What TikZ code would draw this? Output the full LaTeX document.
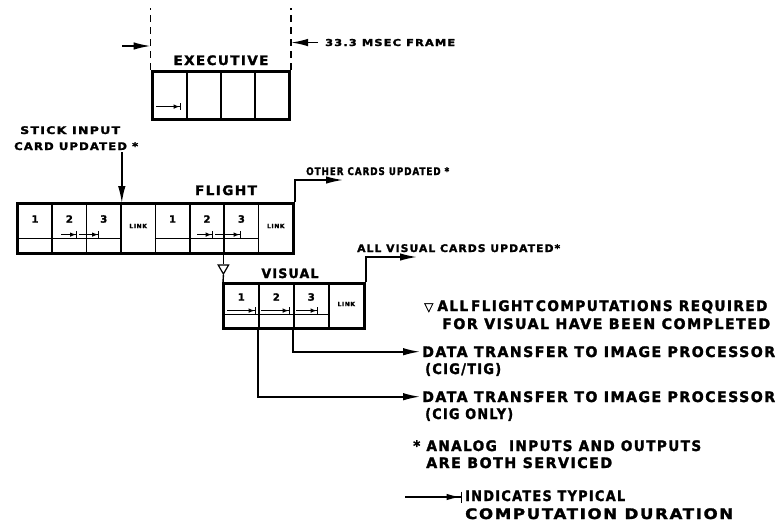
\documentclass[tikz,border=0pt]{standalone}
\usepackage{graphicx}
\usepackage{fontspec}
\setmainfont{DejaVu Sans}
\newfontfamily\lbl[LetterSpace=10,FakeBold=1.8]{DejaVu Sans Bold}
\newfontfamily\sym[FakeBold=1]{DejaVu Sans}
\newcommand{\fw}[2]{\resizebox{#1}{\height}{#2}}
\usetikzlibrary{arrows.meta,calc,fit,shapes.geometric}
\begin{document}
\begin{tikzpicture}[x=1pt,y=-1pt,
  frame/.style={draw,line width=2.8pt,inner sep=0pt},
  cell/.style={draw,line width=1.6pt,inner sep=0pt,anchor=north west,minimum height=#1},
  cell/.default=47pt,
  div/.style={line width=1.5pt},
  conn/.style={line width=1.6pt,-{Latex[length=17pt,width=7.5pt]}},
  dur/.style={line width=1.1pt,-{Latex[length=6pt,width=4.5pt]Bar[width=7pt,line width=1.3pt]}},
  big/.style={font={\lbl\fontsize{14.5}{16}\selectfont},inner sep=0pt,anchor=base west},
  mid/.style={font={\lbl\fontsize{10.5}{12}\selectfont},inner sep=0pt,anchor=base west},
  head/.style={font={\lbl\fontsize{13}{15}\selectfont},inner sep=0pt,anchor=base},
  num/.style={font={\lbl\fontsize{10}{11}\selectfont},inner sep=0pt},
  lnk/.style={font={\lbl\fontsize{6}{7}\selectfont},inner sep=0pt},
  tri/.style={draw,regular polygon,regular polygon sides=3,shape border rotate=180,
    minimum size=12pt,inner sep=0pt,line width=1.2pt}
]
\useasboundingbox (0,0) rectangle (779,531);

% ---------------- EXECUTIVE ----------------
\foreach \i in {1,...,4}{
  \node[cell,minimum width=34pt] (e\i) at ({152+(\i-1)*34},71) {};
}
\node[frame,fit=(e1)(e4)] (exec) {};
\draw[dur] ($(e1.south west)+(4,-13)$) -- ($(e1.south west)+(29,-13)$);
\node[head] (exectxt) at (221,65) {\fw{95pt}{EXECUTIVE}};
\draw[line width=1.3pt,dash pattern=on 7pt off 5pt] (exec.north west) -- ++(0,-62);
\draw[line width=1.3pt,dash pattern=on 7pt off 5pt] (exec.north east) -- ++(0,-62);
\node[mid,font={\lbl\fontsize{9.5}{11}\selectfont}] (frametxt) at (325,46) {\fw{130pt}{33.3 MSEC FRAME}};
\coordinate (larr) at (122,46);
\draw[conn] (larr) -- (larr -| exec.west);
\draw[conn,shorten <=7pt] (frametxt.west) -- (frametxt.west -| exec.east);

% ---------------- FLIGHT ----------------
\foreach \i/\t in {1/1,2/2,3/3,5/1,6/2,7/3}{
  \node[cell=49pt,minimum width=34.4pt] (f\i) at ({17+(\i-1)*34.4},203) {};
  \node[num] at ($(f\i.north)+(0,16)$) {\t};
}
\foreach \i in {4,8}{
  \node[cell=49pt,minimum width=34.4pt] (f\i) at ({17+(\i-1)*34.4},203) {};
  \node[lnk] at ($(f\i.north)+(0,23)$) {LINK};
}
\draw[div] ($(f1.south west)+(0,-15)$) -- ($(f3.south east)+(0,-15)$);
\draw[div] ($(f5.south west)+(0,-15)$) -- ($(f7.south east)+(0,-15)$);
\node[frame,fit=(f1)(f8)] (flight) {};
\draw[dur] ($(f2.south west)+(10,-19)$) -- ($(f2.south west)+(26,-19)$);
\draw[dur] ($(f2.south west)+(28,-19)$) -- ($(f2.south west)+(48,-19)$);
\draw[dur] ($(f6.south west)+(8,-19)$) -- ($(f6.south west)+(24,-19)$);
\draw[dur] ($(f6.south west)+(26,-19)$) -- ($(f6.south west)+(52,-19)$);
\node[head] (flighttxt) at (226,195) {\fw{62pt}{FLIGHT}};

\node[mid] (stick1) at (20,134) {\fw{100pt}{STICK INPUT}};
\node[mid] (stick2) at (14,150) {\fw{124pt}{CARD UPDATED *}};
\coordinate (stickstart) at (f3.north east |- 0,152);
\draw[conn] (stickstart) -- (f3.north east);

\node[mid] (other) at (306,175) {\fw{143pt}{OTHER CARDS UPDATED *}};
\coordinate (othertip) at (343,180);
\draw[conn] (flight.north east) |- (othertip);

% ---------------- VISUAL ----------------
\foreach \i in {1,2,3}{
  \node[cell=44pt,minimum width=35pt] (v\i) at ({223+(\i-1)*35},283) {};
  \node[num] at ($(v\i.north)+(0,14)$) {\i};
}
\node[cell=44pt,minimum width=35pt] (v4) at ({223+3*35},283) {};
\node[lnk] at ($(v4.north)+(0,21)$) {LINK};
\draw[div] ($(v1.south west)+(0,-14)$) -- ($(v3.south east)+(0,-14)$);
\node[frame,fit=(v1)(v4)] (visual) {};
\draw[dur] ($(v1.south west)+(4,-18)$) -- ($(v1.south west)+(33,-18)$);
\draw[dur] ($(v2.south west)+(3,-18)$) -- ($(v2.south west)+(32,-18)$);
\draw[dur] ($(v3.south west)+(3,-18)$) -- ($(v3.south west)+(25,-18)$);
\node[head] (vistxt) at (290,278) {\fw{57pt}{VISUAL}};

\node[tri] (flag) at (f7.south west |- 0,268) {};
\draw[line width=1.4pt] (f7.south west) -- (flag.north);
\draw[line width=1.4pt] (flag.south) -- (v1.north west);

\node[mid] (allvis) at (357,252) {\fw{203pt}{ALL VISUAL CARDS UPDATED*}};
\coordinate (allvistip) at (417,257);
\draw[conn] (visual.north east) |- (allvistip);

% ---------------- NOTES ----------------
\node[big] (n1) at (424,311) {{\sym\fontsize{12}{12}\selectfont ▽}\hspace{4pt}\fw{330pt}{ALL\hspace{3pt}FLIGHT\hspace{3pt}COMPUTATIONS REQUIRED}};
\node[big] (n1b) at (442,329) {\fw{328pt}{FOR VISUAL HAVE BEEN COMPLETED}};

\node[big] (dt1) at (422,357) {\fw{353pt}{DATA TRANSFER TO IMAGE PROCESSOR}};
\node[big] (dt1b) at (425,374) {\fw{76pt}{(CIG/TIG)}};
\draw[conn,shorten >=2pt] (v3.south west) |- (dt1.west);

\node[big] (dt2) at (422,402) {\fw{353pt}{DATA TRANSFER TO IMAGE PROCESSOR}};
\node[big] (dt2b) at (425,419) {\fw{88pt}{(CIG ONLY)}};
\draw[conn,shorten >=2pt] (v2.south west) |- (dt2.west);

\node[big] (an1) at (413,451) {\fw{288pt}{* ANALOG \ INPUTS AND OUTPUTS}};
\node[big] (an1b) at (426,468) {\fw{186pt}{ARE BOTH SERVICED}};

\node[big] (ind1) at (465,501) {\fw{160pt}{INDICATES TYPICAL}};
\node[big] (ind2) at (465,519) {\fw{268pt}{COMPUTATION DURATION}};
\coordinate (legstart) at (405,497);
\draw[line width=1.6pt,-{Latex[length=14pt,width=6.5pt]Bar[width=11pt,line width=1.5pt]},shorten >=3pt] (legstart) -- (legstart -| ind1.west);
\end{tikzpicture}
\end{document}
